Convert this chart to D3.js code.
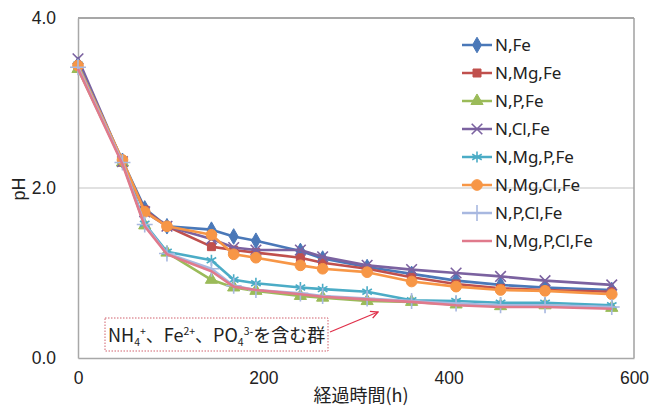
<!DOCTYPE html>
<html>
<head>
<meta charset="utf-8">
<script src="https://cdn.jsdelivr.net/npm/d3@7"></script>
<style>
  body { margin: 0; background: #fff; }
  svg text { fill: #222; }
</style>
</head>
<body>
<div id="chart"></div>
<script>
// elapsed time (h)
const hours = [0, 48, 72, 96, 144, 168, 192, 240, 264, 312, 360, 408, 456, 504, 576];

const seriesNames = ["N,Fe", "N,Mg,Fe", "N,P,Fe", "N,Cl,Fe", "N,Mg,P,Fe", "N,Mg,Cl,Fe", "N,P,Cl,Fe", "N,Mg,P,Cl,Fe"];

const nFe       = [3.45, 2.32, 1.76, 1.55, 1.51, 1.43, 1.38, 1.26, 1.17, 1.07, 0.99, 0.91, 0.86, 0.83, 0.80];
const nMgFe     = [3.42, 2.30, 1.74, 1.55, 1.31, 1.27, 1.24, 1.18, 1.12, 1.05, 0.95, 0.87, 0.82, 0.80, 0.78];
const nPFe      = [3.40, 2.30, 1.56, 1.24, 0.92, 0.83, 0.79, 0.73, 0.71, 0.67, 0.66, 0.63, 0.61, 0.62, 0.59];
const nClFe     = [3.52, 2.31, 1.72, 1.55, 1.40, 1.30, 1.27, 1.27, 1.19, 1.09, 1.04, 1.00, 0.96, 0.91, 0.86];
const nMgPFe    = [3.45, 2.32, 1.58, 1.25, 1.15, 0.92, 0.88, 0.83, 0.81, 0.78, 0.68, 0.67, 0.65, 0.65, 0.62];
const nMgClFe   = [3.44, 2.33, 1.72, 1.55, 1.45, 1.22, 1.18, 1.09, 1.05, 1.01, 0.90, 0.84, 0.80, 0.79, 0.75];
const nPClFe    = [3.42, 2.30, 1.57, 1.23, 1.05, 0.85, 0.80, 0.76, 0.73, 0.70, 0.67, 0.64, 0.62, 0.62, 0.60];
const nMgPClFe  = [3.40, 2.28, 1.55, 1.22, 1.02, 0.84, 0.80, 0.75, 0.72, 0.69, 0.66, 0.62, 0.60, 0.60, 0.58];

const seriesValues = [nFe, nMgFe, nPFe, nClFe, nMgPFe, nMgClFe, nPClFe, nMgPClFe];
const colors = ["#4a78b8", "#c0504d", "#9bbb59", "#7b62a0", "#4bacc6", "#f79646", "#a8b8e0", "#e07a8c"];
const markers = ["diamond", "square", "triangle", "times", "asterisk", "circle", "plus", "none"];

const yTicks = [0, 2, 4];
const xTicks = [0, 200, 400, 600];

const width = 653, height = 409;
const margin = {top: 18, right: 19, bottom: 51, left: 78};

const svg = d3.select("#chart").append("svg")
  .attr("width", width)
  .attr("height", height);

const x = d3.scaleLinear().domain([0, 600]).range([margin.left, width - margin.right]);
const y = d3.scaleLinear().domain([0, 4]).range([height - margin.bottom, margin.top]);

// gridlines
svg.append("g")
  .selectAll("line")
  .data(yTicks.slice(1, -1))
  .join("line")
    .attr("x1", x(0)).attr("x2", x(600))
    .attr("y1", d => y(d)).attr("y2", d => y(d))
    .attr("stroke", "#c4c4c4").attr("stroke-width", 1.2);

// frame
svg.append("line").attr("x1", x(0)).attr("x2", x(600)).attr("y1", y(4)).attr("y2", y(4))
  .attr("stroke", "#8a8a8a").attr("stroke-width", 1.5);
svg.append("line").attr("x1", x(600)).attr("x2", x(600)).attr("y1", y(4)).attr("y2", y(0))
  .attr("stroke", "#a0a0a0").attr("stroke-width", 1.5);

// axes
const yAxis = svg.append("g")
  .attr("transform", "translate(" + x(0) + ",0)")
  .call(d3.axisLeft(y).tickValues(yTicks).tickFormat(d3.format(".1f")).tickSize(0).tickPadding(22));
const xAxis = svg.append("g")
  .attr("transform", "translate(0," + y(0) + ")")
  .call(d3.axisBottom(x).tickValues(xTicks).tickSize(0).tickPadding(14));
[yAxis, xAxis].forEach(a => {
  a.select(".domain").attr("stroke", "#a8a8a8").attr("stroke-width", 1.5);
  a.selectAll("text").attr("font-family", "Liberation Sans, Arial, sans-serif").attr("font-size", 17.5).attr("fill", "#222");
});

// axis titles
svg.append("text")
  .attr("x", 361).attr("y", 402)
  .attr("text-anchor", "middle")
  .attr("font-family", "Noto Sans CJK JP, sans-serif")
  .attr("font-size", 18)
  .text("経過時間(h)");
svg.append("text")
  .attr("transform", "translate(25,189) rotate(-90)")
  .attr("text-anchor", "middle")
  .attr("font-family", "Liberation Sans, Arial, sans-serif")
  .attr("font-size", 18)
  .text("pH");

// lines
const line = d3.line().x((d, i) => x(hours[i])).y(d => y(d));

function symbolType(name) {
  return {
    diamond: d3.symbolDiamond, square: d3.symbolSquare, triangle: d3.symbolTriangle,
    times: d3.symbolTimes || d3.symbolX, asterisk: d3.symbolAsterisk, circle: d3.symbolCircle,
    plus: d3.symbolPlus || d3.symbolCross
  }[name];
}
const strokeMarkers = ["times", "asterisk", "plus"];
const markerSize = {diamond: 70, square: 64, triangle: 64, times: 75, asterisk: 85, circle: 90, plus: 85};

function drawMarker(g, name, color, cx, cy) {
  if (name === "none") return;
  const stroked = strokeMarkers.includes(name);
  g.append("path")
    .attr("d", d3.symbol().type(symbolType(name)).size(markerSize[name])())
    .attr("transform", "translate(" + cx + "," + cy + ")")
    .attr("fill", stroked ? "none" : color)
    .attr("stroke", color)
    .attr("stroke-width", stroked ? 1.6 : 1);
}

const plot = svg.append("g");
seriesValues.forEach((vals, s) => {
  const g = plot.append("g");
  g.append("path")
    .datum(vals)
    .attr("d", line)
    .attr("fill", "none")
    .attr("stroke", colors[s])
    .attr("stroke-width", 2.6)
    .attr("stroke-linejoin", "round");
  vals.forEach((v, i) => drawMarker(g, markers[s], colors[s], x(hours[i]), y(v)));
});

// legend
const legend = svg.append("g");
seriesNames.forEach((name, i) => {
  const ly = 45 + i * 28;
  legend.append("line")
    .attr("x1", 462).attr("x2", 492).attr("y1", ly).attr("y2", ly)
    .attr("stroke", colors[i]).attr("stroke-width", 2.5);
  drawMarker(legend, markers[i], colors[i], 477, ly);
  legend.append("text")
    .attr("x", 495).attr("y", ly + 6)
    .attr("font-family", "Noto Sans, sans-serif")
    .attr("font-size", 17)
    .text(name);
});

// annotation box
svg.append("rect")
  .attr("x", 105).attr("y", 318).attr("width", 223).attr("height", 33)
  .attr("fill", "#fff")
  .attr("stroke", "#d0606c").attr("stroke-width", 1)
  .attr("stroke-dasharray", "1.5,1.5");
const ann = svg.append("text")
  .attr("x", 108).attr("y", 342)
  .attr("font-family", "Noto Sans CJK JP, sans-serif")
  .attr("font-size", 18);
ann.append("tspan").text("NH");
ann.append("tspan").attr("font-size", 10.5).attr("dy", 4).text("4");
ann.append("tspan").attr("font-size", 10.5).attr("dy", -11).text("+");
ann.append("tspan").attr("dy", 7).text("、Fe");
ann.append("tspan").attr("font-size", 10.5).attr("dy", -7).text("2+");
ann.append("tspan").attr("dy", 7).text("、PO");
ann.append("tspan").attr("font-size", 10.5).attr("dy", 4).text("4");
ann.append("tspan").attr("font-size", 10.5).attr("dy", -11).text("3-");
ann.append("tspan").attr("dy", 7).text("を含む群");

// arrow
svg.append("defs").append("marker")
  .attr("id", "arrowhead")
  .attr("viewBox", "0 0 10 10")
  .attr("refX", 9).attr("refY", 5)
  .attr("markerWidth", 7).attr("markerHeight", 7)
  .attr("orient", "auto")
  .append("path")
    .attr("d", "M1,1 L9,5 L1,9")
    .attr("fill", "none").attr("stroke", "#e0304a").attr("stroke-width", 1.5);
svg.append("line")
  .attr("x1", 330).attr("y1", 332).attr("x2", 378).attr("y2", 312)
  .attr("stroke", "#e0304a").attr("stroke-width", 1.3)
  .attr("marker-end", "url(#arrowhead)");
</script>
</body>
</html>
